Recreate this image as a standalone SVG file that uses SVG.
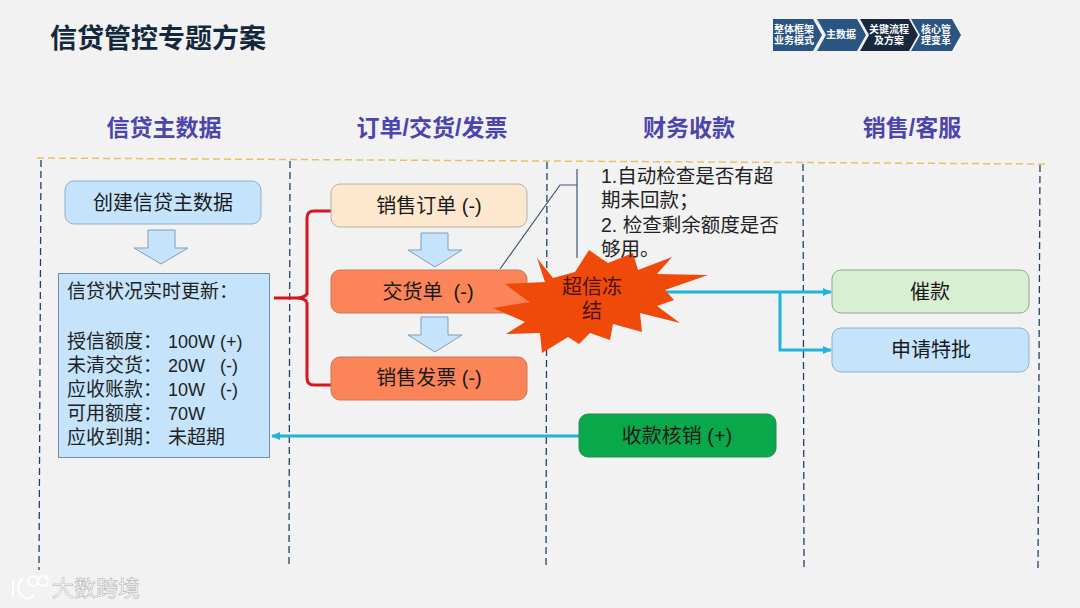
<svg xmlns="http://www.w3.org/2000/svg" width="1080" height="608" viewBox="0 0 1080 608">
<defs>
<style>
text{font-family:"Liberation Sans","Noto Sans CJK SC",sans-serif;fill:#1a1a1a}
.hd{font-size:23px;font-weight:bold;fill:#4d45ae;text-anchor:middle}
.n{font-size:20px;text-anchor:middle}
.ln{fill:none;stroke:#223f6b;stroke-width:1.3;stroke-dasharray:7 4}
.cy{fill:none;stroke:#1fb4dc;stroke-width:3}
.rd{fill:none;stroke:#d9141c;stroke-width:3}
.da{fill:#c5e4fb;stroke:#7f9fb8;stroke-width:1}
.t{font-size:19px;fill:#222}
.v{font-size:18px;fill:#222}
.nt{font-size:19.500px;fill:#222}
.ct{font-size:10px;font-weight:bold;fill:#fff;text-anchor:middle}
</style>
<marker id="ah" markerWidth="9" markerHeight="8" refX="8" refY="4" orient="auto" markerUnits="userSpaceOnUse"><path d="M0 0L9 4L0 8Z" fill="#1fb4dc"/></marker>
</defs>
<rect width="1080" height="608" fill="#f2f2f2"/>
<text x="50" y="48" style="font-size:27px;font-weight:bold;fill:#14283c">信贷管控专题方案</text>
<g id="breadcrumb">
<path d="M773 19H813L822 35L813 51H773Z" fill="#2a5482"/>
<path d="M817 19H857L866 35L857 51H817L826 35Z" fill="#2a5482"/>
<path d="M860 19H909L918 35L909 51H860L869 35Z" fill="#17283f"/>
<path d="M911 19H952L961 35L952 51H911L920 35Z" fill="#2a5482"/>
<text class="ct" x="794" y="33">整体框架</text><text class="ct" x="794" y="44">业务模式</text>
<text class="ct" x="841" y="38">主数据</text>
<text class="ct" x="889" y="33">关键流程</text><text class="ct" x="889" y="44">及方案</text>
<text class="ct" x="936" y="33">核心管</text><text class="ct" x="936" y="44">理变革</text>
</g>
<g id="headers">
<text class="hd" x="164" y="136">信贷主数据</text>
<text class="hd" x="432" y="136">订单/交货/发票</text>
<text class="hd" x="689" y="136">财务收款</text>
<text class="hd" x="912" y="136">销售/客服</text>
</g>
<g id="connectors">
<path d="M37 158L1045 164" fill="none" stroke="#e3c45f" stroke-width="1.5" stroke-dasharray="7 4"/>
<path class="ln" d="M41 160L39 570"/>
<path class="ln" d="M290 161L289 568"/>
<path class="ln" d="M547 162L546 566"/>
<path class="ln" d="M803 164L804 568"/>
<path class="ln" d="M1040 165L1038 570"/>
<path d="M500 269L560 185H577M577 169V258" fill="none" stroke="#3f5678" stroke-width="1.200"/>
<path class="rd" d="M274 298H296Q304 298 307 294V218Q307 211 314 211H331M307 302V378Q307 385 314 385H331M296 298Q304 298 307 302"/>
<path class="cy" d="M665 292H831" marker-end="url(#ah)"/>
<path class="cy" d="M780 292V350H831" marker-end="url(#ah)"/>
<path class="cy" d="M579 436H272" marker-end="url(#ah)"/>
</g>
<g id="n-create"><rect x="65" y="181" width="196" height="43" rx="9" fill="#c5e4fb" stroke="#8fb0c8"/><text class="n" x="163" y="210">创建信贷主数据</text></g>
<path id="a1" class="da" d="M148 230H175V248H188L161 264L134 248H148Z"/>
<g id="n-status"><rect x="58.500" y="273.500" width="211" height="184" fill="#c5e4fb" stroke="#6f8fae"/>
<text x="67" y="298" class="t">信贷状况实时更新：</text>
<text x="67" y="348" class="t">授信额度：</text><text x="168" y="348" class="v">100W (+)</text>
<text x="67" y="372" class="t">未清交货：</text><text x="168" y="372" class="v" xml:space="preserve">20W   (-)</text>
<text x="67" y="396" class="t">应收账款：</text><text x="168" y="396" class="v" xml:space="preserve">10W   (-)</text>
<text x="67" y="420" class="t">可用额度：</text><text x="168" y="420" class="v">70W</text>
<text x="67" y="444" class="t">应收到期：</text><text x="168" y="444" class="t">未超期</text>
</g>
<g id="n-order"><rect x="331" y="184" width="196" height="43" rx="9" fill="#fde7cf" stroke="#b8b0a4"/><text class="n" x="429" y="213">销售订单 (-)</text></g>
<path id="a2" class="da" d="M421 233H448V250H462L435 267L408 250H421Z"/>
<g id="n-delivery"><rect x="331" y="270" width="196" height="43" rx="9" fill="#fb8559" stroke="#c8785a"/><text class="n" x="428" y="299" xml:space="preserve">交货单  (-)</text></g>
<path id="a3" class="da" d="M421 317H448V335H462L435 352L408 335H421Z"/>
<g id="n-invoice"><rect x="331" y="357" width="196" height="43" rx="9" fill="#fb8559" stroke="#c8785a"/><text class="n" x="429" y="385">销售发票 (-)</text></g>
<g id="n-freeze"><path d="M537 258L553 278L575 272L589 250L602 259L608 263L633 253L638 270L672 257L657 274L708 275L665 290L674 300L657 306L680 323L640 313L642 332L613 324L610 340L590 333L579 344L568 337L542 353L540 333L506 334L525 322L493 308L529 302L505 284L545 282Z" fill="#f04a0b"/>
<text class="n" x="592" y="294" style="fill:#4a1208">超信冻</text><text class="n" x="592" y="318" style="fill:#4a1208">结</text></g>
<g id="n-note"><text x="601" y="183" class="nt">1.自动检查是否有超</text><text x="601" y="207" class="nt">期未回款；</text><text x="601" y="232" class="nt">2. 检查剩余额度是否</text><text x="601" y="256" class="nt">够用。</text></g>
<g id="n-urge"><rect x="832" y="270" width="197" height="43" rx="9" fill="#d9efd2" stroke="#8fa890"/><text class="n" x="930" y="299">催款</text></g>
<g id="n-special"><rect x="832" y="328" width="197" height="44" rx="9" fill="#c5e4fb" stroke="#8fb0c8"/><text class="n" x="931" y="357">申请特批</text></g>
<g id="n-collect"><rect x="579" y="414" width="197" height="43" rx="9" fill="#09a84b" stroke="#2b8a55"/><text class="n" x="677" y="443">收款核销 (+)</text></g>
<g id="watermark" opacity=".95">
<path d="M13 580V597M23 578Q13 587 24 598Q30 600 34 594M33 576a5 5 0 1 0 .1 0M43 576a5 5 0 1 0 .1 0" fill="none" stroke="#fff" stroke-width="2"/>
<text x="52" y="596" style="font-size:22px;fill:#fff;stroke:#a8a8a8;stroke-width:.5">大数跨境</text>
</g>
</svg>
